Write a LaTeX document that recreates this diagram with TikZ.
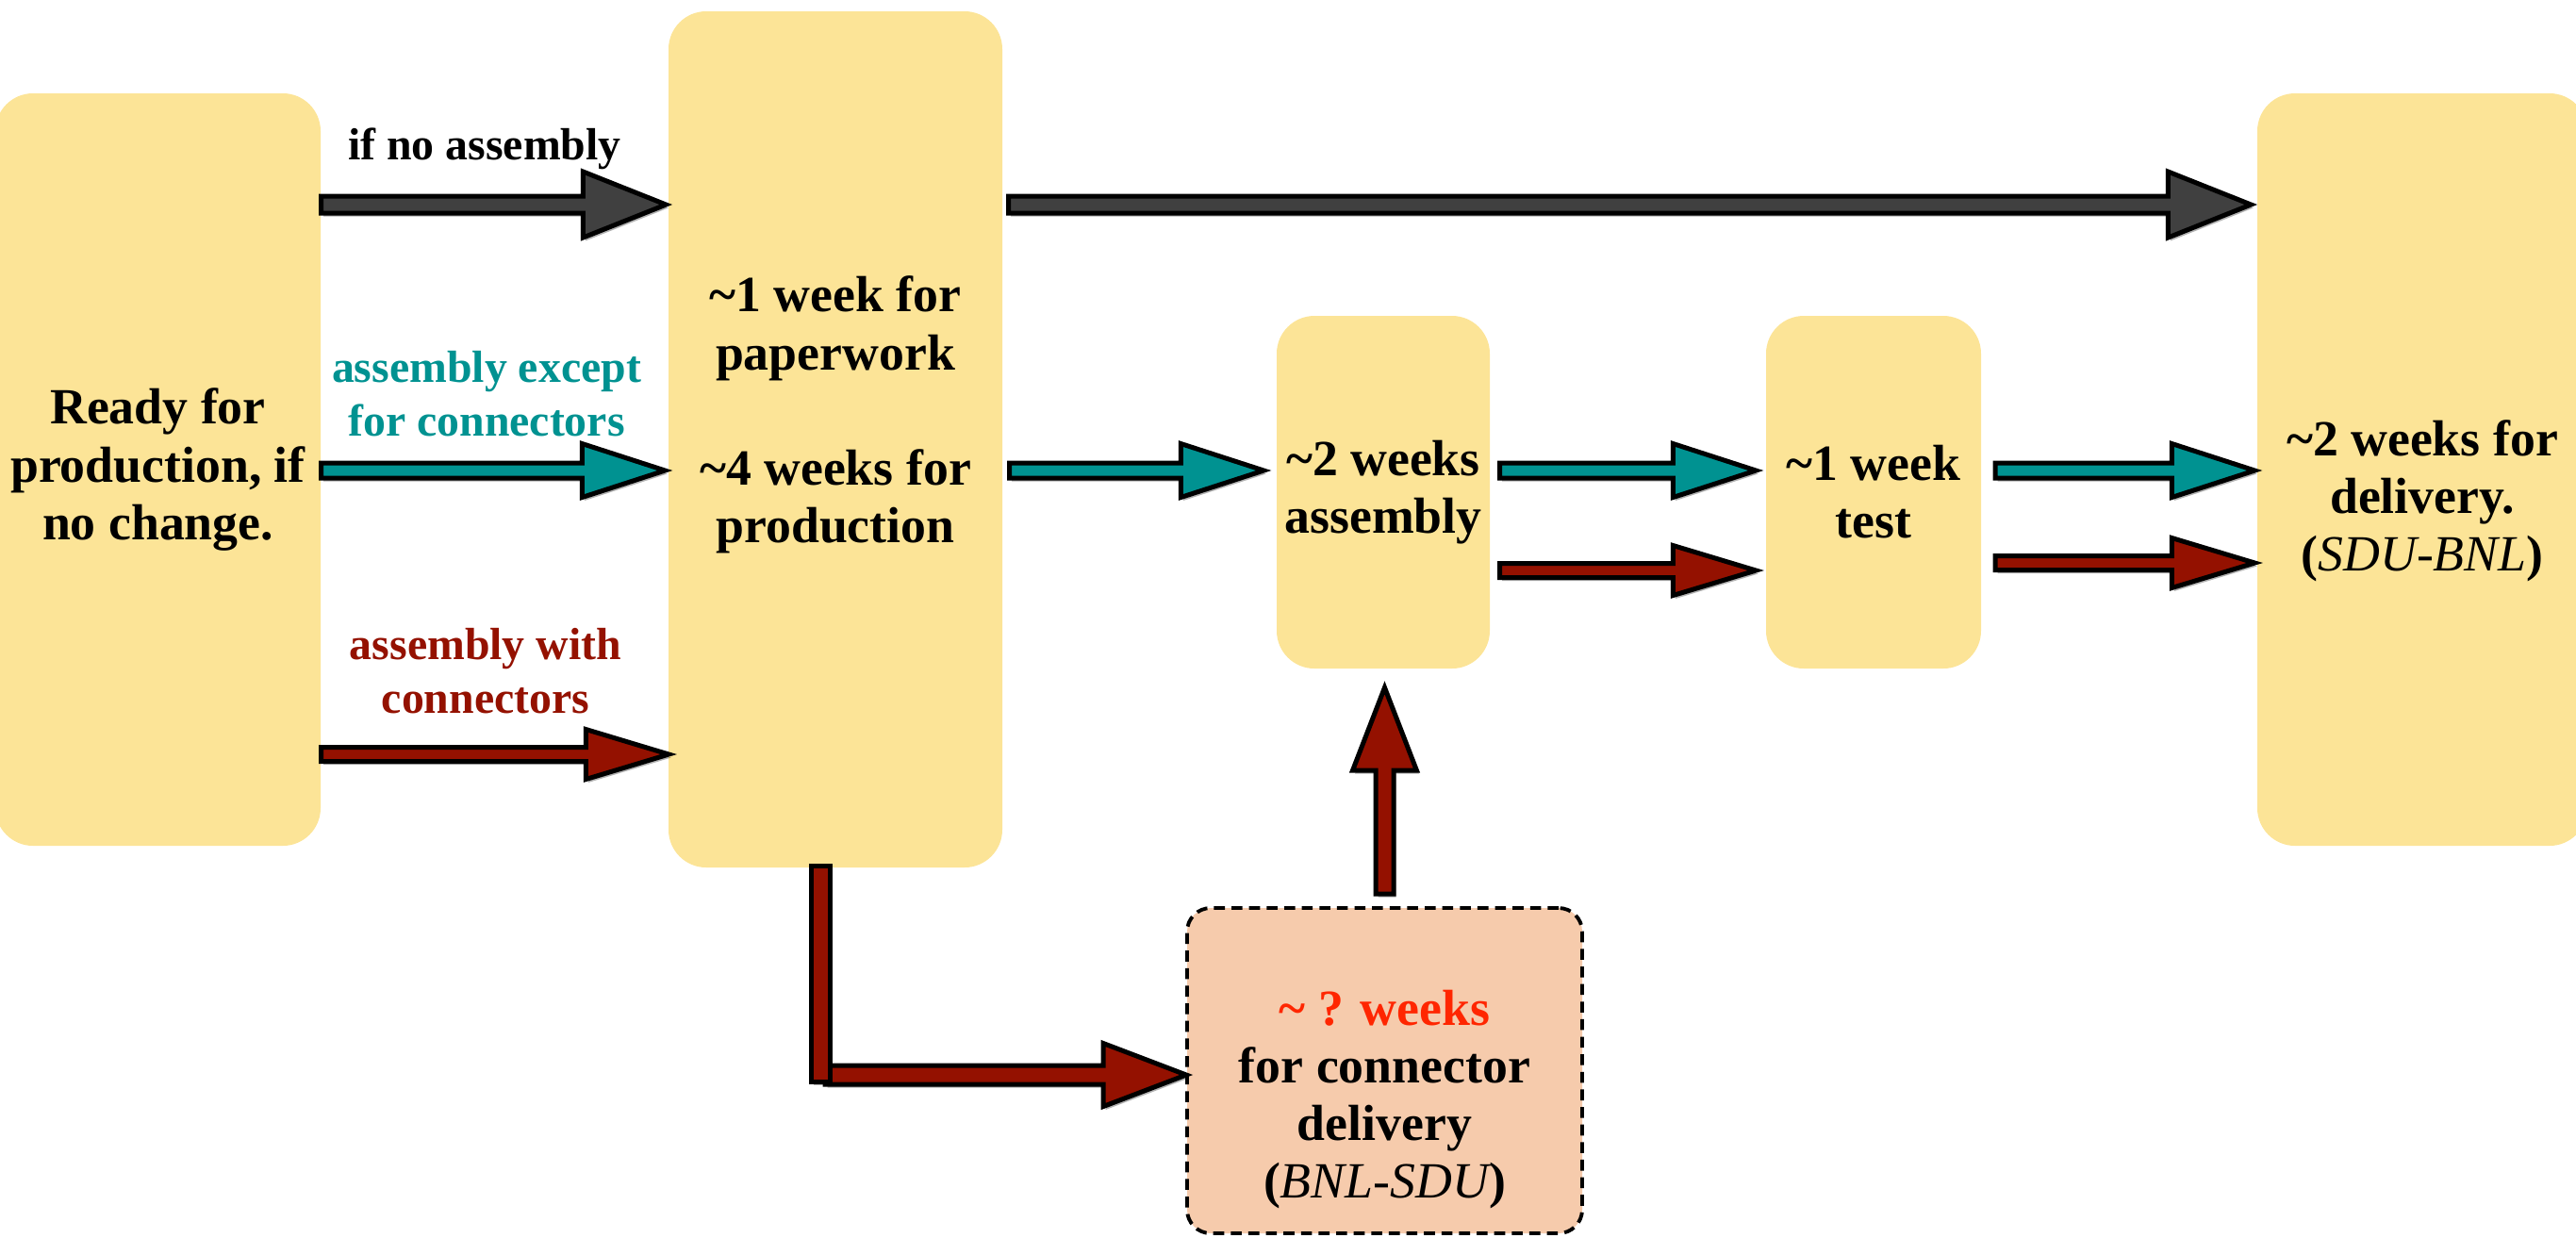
\documentclass[tikz,border=0pt]{standalone}
\usepackage{fontspec}
\setmainfont{Liberation Serif}
\newfontfamily\timesbold{Liberation Serif Bold}
\newfontfamily\timesital{Liberation Serif Italic}
\usetikzlibrary{calc,shadows}

\definecolor{boxyellow}{RGB}{252,228,151}
\definecolor{boxsalmon}{RGB}{246,203,172}
\definecolor{arrgray}{RGB}{64,64,64}
\definecolor{arrteal}{RGB}{0,146,145}
\definecolor{arrred}{RGB}{148,17,0}
\definecolor{qred}{RGB}{255,38,0}

\newcommand{\tld}{\textasciitilde}
\newcommand{\itx}[1]{{\timesital #1}}
\def\headlen{0.88cm}

% block arrow to the right: colour, tail, tip, half shaft, half head
\newcommand{\fatarrow}[5]{%
  \draw[blockarrow, fill=#1] let \p1=(#2), \p2=(#3) in
    (\x1,\y1-#4) -- (\x2-\headlen,\y1-#4) -- (\x2-\headlen,\y1-#5) -- (\x2,\y1)
    -- (\x2-\headlen,\y1+#5) -- (\x2-\headlen,\y1+#4) -- (\x1,\y1+#4) -- cycle;
}

\tikzset{
  box/.style={fill=boxyellow, rounded corners=0.4cm, inner sep=0pt},
  boxtext/.style={align=center, font={\timesbold\fontsize{15.3}{17.4}\selectfont}},
  lbl/.style={align=center, font={\timesbold\fontsize{13.6}{16.2}\selectfont}},
  blockarrow/.style={draw=black, line width=0.05cm, line join=miter,
    drop shadow={shadow xshift=0.025cm, shadow yshift=-0.035cm, opacity=0.3, fill=black}},
}

\begin{document}
\begin{tikzpicture}[y=-1cm]
	\useasboundingbox (0,0) rectangle (27.32,13.12);
	% boxes
	\node [box, boxtext, minimum width=3.45cm, minimum height=7.98cm] (ready) at (1.675,4.98) {Ready for\\production, if\\no change.};
	\node [box, minimum width=3.54cm, minimum height=9.08cm] (paper) at (8.86,4.66) {};
	\node [boxtext] (papertxt) at (8.86,4.40) {\tld1 week for\\paperwork\\[17.4pt]\tld4 weeks for\\production};
	\node [box, boxtext, minimum width=2.26cm, minimum height=3.74cm] (assy) at (14.67,5.22) {\tld2 weeks\\assembly};
	\node [box, boxtext, minimum width=2.28cm, minimum height=3.74cm] (test) at (19.87,5.22) {\tld1 week\\test};
	\node [box, minimum width=3.50cm, minimum height=7.98cm] (deliv) at (25.69,4.98) {};
	\node [boxtext] (delivtxt) at (25.69,5.31) {\tld2 weeks for\\delivery.\\(\itx{SDU-BNL})};
	\node [box, fill=boxsalmon, draw=black, line width=1.1pt, dash pattern=on 3.3pt off 2pt, rounded corners=0.25cm, minimum width=4.19cm, minimum height=3.45cm] (conn) at (14.685,11.355) {};
	\node [boxtext] (conntxt) at (14.685,11.66) {\textcolor{qred}{\tld\ ? weeks}\\for connector\\delivery\\(\itx{BNL-SDU})};

	% labels
	\node [lbl] (noassy) at (5.14,1.58) {if no assembly};
	\node [lbl, text=arrteal] (except) at (5.16,4.18) {assembly except\\for connectors};
	\node [lbl, text=arrred] (withconn) at (5.15,7.12) {assembly with\\connectors};

	% rows of the arrows
	\coordinate (rowgray) at (0,2.17);
	\coordinate (rowteal) at (0,4.99);
	\coordinate (rowred) at (0,8.00);
	\coordinate (rowredC) at (0,6.05);
	\coordinate (rowredD) at (0,5.97);
	\coordinate (rowL) at (0,11.40);
	\coordinate (bend) at ($(paper.south |- rowL)+(-0.11,0)$);

	\fatarrow{arrgray}{ready.east |- rowgray}{[xshift=-0.02cm]paper.west}{0.09cm}{0.35cm}
	\fatarrow{arrgray}{[xshift=0.06cm]paper.east |- rowgray}{[xshift=-0.06cm]deliv.west}{0.09cm}{0.35cm}

	\fatarrow{arrteal}{ready.east |- rowteal}{[xshift=-0.03cm]paper.west}{0.08cm}{0.285cm}
	\fatarrow{arrteal}{[xshift=0.07cm]paper.east |- rowteal}{[xshift=-0.13cm]assy.west}{0.08cm}{0.285cm}
	\fatarrow{arrteal}{[xshift=0.1cm]assy.east |- rowteal}{[xshift=-0.1cm]test.west}{0.08cm}{0.285cm}
	\fatarrow{arrteal}{[xshift=0.145cm]test.east |- rowteal}{[xshift=-0.02cm]deliv.west}{0.08cm}{0.285cm}

	\fatarrow{arrred}{ready.east |- rowred}{[xshift=0.01cm]paper.west}{0.075cm}{0.265cm}
	\fatarrow{arrred}{[xshift=0.1cm]assy.east |- rowredC}{[xshift=-0.1cm]test.west}{0.075cm}{0.265cm}
	\fatarrow{arrred}{[xshift=0.145cm]test.east |- rowredD}{[xshift=-0.02cm]deliv.west}{0.075cm}{0.265cm}

	% connector branch
	\fatarrow{arrred}{bend}{[xshift=0.01cm]conn.west}{0.10cm}{0.335cm}
	\draw [blockarrow, fill=arrred] ($(paper.south)+(-0.255,-0.02)$) rectangle ($(paper.south)+(-0.055,2.27)$);
	\draw [blockarrow, fill=arrred] let \p1=(conn.north), \p2=(assy.south) in
		(\x1-0.095cm,\y1+0.13cm) -- (\x1-0.095cm,\y2-1.075cm) -- (\x1-0.34cm,\y2-1.075cm) -- (\x1,\y2-0.195cm)
		-- (\x1+0.34cm,\y2-1.075cm) -- (\x1+0.095cm,\y2-1.075cm) -- (\x1+0.095cm,\y1+0.13cm) -- cycle;
\end{tikzpicture}
\end{document}
